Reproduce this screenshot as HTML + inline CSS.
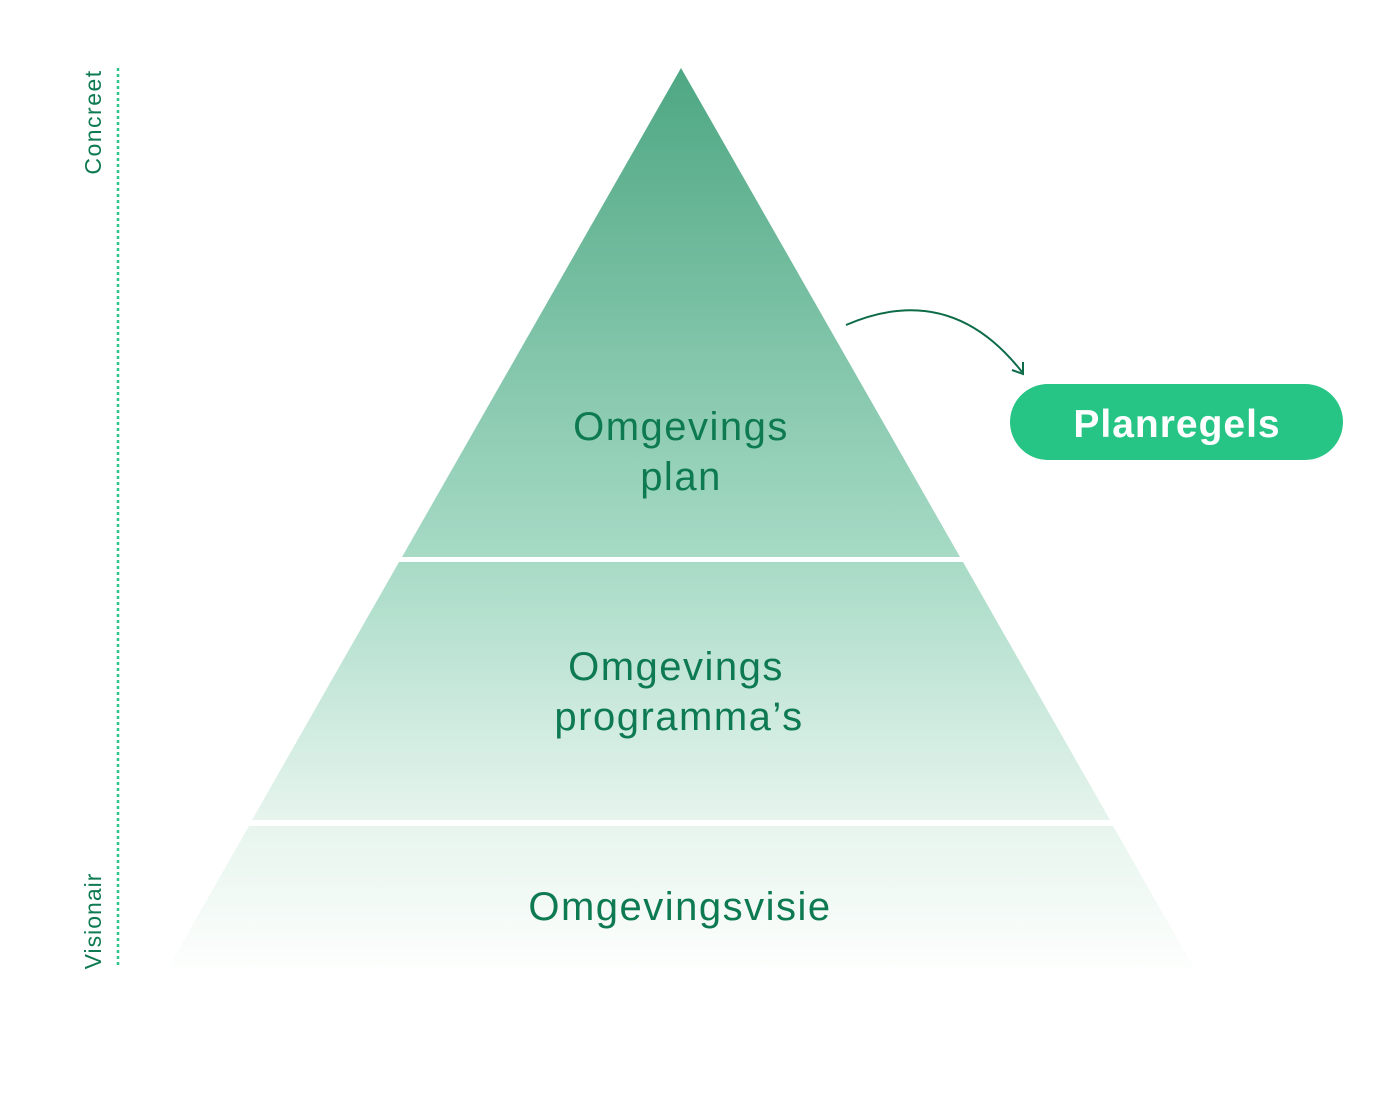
<!DOCTYPE html>
<html><head><meta charset="utf-8"><style>
html,body{margin:0;padding:0;background:#fff;width:1391px;height:1104px;overflow:hidden}
text{font-family:"Liberation Sans",sans-serif}
</style></head><body>
<svg width="1391" height="1104" viewBox="0 0 1391 1104">
<defs>
<linearGradient id="g" x1="0" y1="68" x2="0" y2="968" gradientUnits="userSpaceOnUse">
<stop offset="0" stop-color="#4ea783"/>
<stop offset="0.54" stop-color="#a6dac5"/>
<stop offset="0.83" stop-color="#e5f4ed"/>
<stop offset="1" stop-color="#fdfefd"/>
</linearGradient>
</defs>
<polygon points="681,68 960,557 402,557" fill="url(#g)"/>
<polygon points="399,562 963,562 1110,820 252,820" fill="url(#g)"/>
<polygon points="249,826 1113,826 1194,968 168,968" fill="url(#g)"/>
<line x1="118" y1="68" x2="118" y2="968" stroke="#2dc68a" stroke-width="2.5" stroke-dasharray="3,3"/>
<text transform="translate(101,122) rotate(-90)" text-anchor="middle" font-size="23" letter-spacing="1.5" fill="#0e7a52">Concreet</text>
<text transform="translate(101,921) rotate(-90)" text-anchor="middle" font-size="23" letter-spacing="1" fill="#0e7a52">Visionair</text>
<g font-size="40" letter-spacing="1.5" fill="#0e7a52" text-anchor="middle">
<text x="681" y="440">Omgevings</text>
<text x="681" y="490">plan</text>
<text x="676" y="680">Omgevings</text>
<text x="679" y="730">programma’s</text>
<text x="680" y="920">Omgevingsvisie</text>
</g>
<path d="M846,325 Q950,280 1022,372" fill="none" stroke="#0d6b48" stroke-width="2"/>
<path d="M1012,370 L1023,374 L1023,362" fill="none" stroke="#0d6b48" stroke-width="2"/>
<rect x="1010" y="384" width="333" height="76" rx="38" fill="#26c485"/>
<text x="1177" y="437" text-anchor="middle" font-size="39" letter-spacing="1" font-weight="bold" fill="#fff">Planregels</text>
</svg>
</body></html>
